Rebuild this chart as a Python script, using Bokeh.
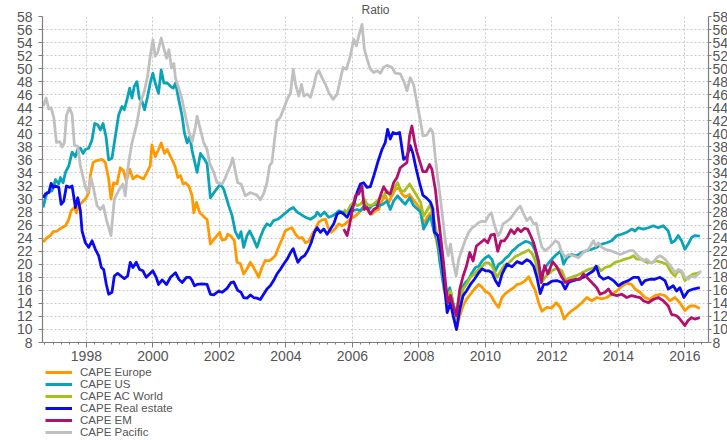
from bokeh.plotting import figure
from bokeh.layouts import column
from bokeh.models import (Range1d, LinearAxis, SingleIntervalTicker, Legend,
                          LegendItem)
from bokeh.embed import file_html
from bokeh.resources import INLINE

# ---------------- data (decimal year, CAPE ratio) ----------------
europe_year = [1996.70, 1996.82, 1996.92, 1997.00, 1997.12, 1997.22, 1997.37, 1997.47, 1997.54, 1997.64,
               1997.70, 1997.77, 1997.87, 1997.97, 1998.07, 1998.12, 1998.20, 1998.32, 1998.47, 1998.57,
               1998.67, 1998.74, 1998.82, 1998.92, 1999.02, 1999.12, 1999.20, 1999.30, 1999.40, 1999.52,
               1999.62, 1999.72, 1999.82, 1999.92, 1999.97, 2000.07, 2000.17, 2000.25, 2000.35, 2000.43,
               2000.53, 2000.63, 2000.68, 2000.75, 2000.83, 2000.91, 2000.98, 2001.08, 2001.18, 2001.23,
               2001.31, 2001.41, 2001.55, 2001.63, 2001.73, 2001.83, 2001.93, 2002.01, 2002.08, 2002.18,
               2002.25, 2002.35, 2002.45, 2002.53, 2002.63, 2002.73, 2002.83, 2002.93, 2003.03, 2003.11,
               2003.18, 2003.28, 2003.38, 2003.48, 2003.58, 2003.68, 2003.78, 2003.88, 2003.98, 2004.08,
               2004.18, 2004.29, 2004.39, 2004.49, 2004.59, 2004.69, 2004.79, 2004.89, 2004.99, 2005.09,
               2005.19, 2005.27, 2005.37, 2005.49, 2005.59, 2005.69, 2005.79, 2005.89, 2005.99, 2006.09,
               2006.19, 2006.29, 2006.39, 2006.49, 2006.59, 2006.69, 2006.79, 2006.89, 2006.99, 2007.09,
               2007.19, 2007.29, 2007.39, 2007.49, 2007.59, 2007.72, 2007.84, 2007.94, 2008.05, 2008.14,
               2008.24, 2008.35, 2008.45, 2008.55, 2008.65, 2008.75, 2008.85, 2008.95, 2009.03, 2009.13,
               2009.23, 2009.33, 2009.43, 2009.55, 2009.67, 2009.80, 2009.90, 2010.00, 2010.10, 2010.20,
               2010.30, 2010.40, 2010.50, 2010.60, 2010.70, 2010.85, 2010.95, 2011.05, 2011.20, 2011.30,
               2011.40, 2011.50, 2011.60, 2011.70, 2011.85, 2012.00, 2012.13, 2012.25, 2012.37, 2012.47,
               2012.60, 2012.75, 2012.90, 2013.05, 2013.20, 2013.35, 2013.50, 2013.65, 2013.80, 2013.95,
               2014.10, 2014.25, 2014.40, 2014.50, 2014.65, 2014.80, 2014.95, 2015.10, 2015.25, 2015.40,
               2015.55, 2015.70, 2015.85, 2016.00, 2016.15, 2016.30, 2016.45]
europe_cape = [23.4, 24.1, 24.4, 25.0, 25.1, 25.5, 25.9, 26.9, 28.2, 28.7,
               27.9, 29.0, 29.5, 30.0, 31.0, 33.6, 35.6, 35.9, 36.1, 35.6,
               33.1, 30.0, 32.5, 32.3, 34.8, 34.3, 32.8, 34.6, 33.1, 33.6,
               33.3, 33.1, 34.1, 35.1, 38.3, 36.5, 37.6, 38.6, 37.0, 37.6,
               36.5, 35.5, 34.8, 33.3, 33.6, 32.3, 32.5, 32.0, 30.5, 27.9,
               29.5, 27.9, 27.2, 26.9, 23.1, 23.8, 24.4, 24.9, 23.7, 23.8,
               24.6, 24.3, 23.6, 20.3, 20.1, 18.5, 19.3, 20.3, 19.5, 18.7,
               18.0, 19.5, 20.6, 20.5, 20.8, 21.3, 22.6, 23.8, 25.1, 25.4,
               25.6, 24.6, 24.0, 24.1, 23.3, 23.5, 24.6, 25.4, 26.5, 26.8,
               26.9, 25.6, 24.9, 25.5, 26.2, 25.9, 26.2, 26.7, 27.1, 27.4,
               27.9, 28.5, 29.0, 28.0, 27.7, 28.2, 28.4, 29.7, 30.5, 29.5,
               30.5, 31.5, 31.7, 30.8, 30.3, 30.7, 29.8, 29.2, 28.4, 26.1,
               27.2, 27.9, 25.4, 23.1, 20.8, 16.2, 14.1, 14.9, 12.9, 10.0,
               12.1, 13.6, 14.6, 15.4, 16.2, 16.9, 16.5, 15.8, 15.6, 14.9,
               14.0, 13.4, 14.9, 15.5, 15.9, 16.4, 16.9, 17.0, 17.5, 18.1,
               17.0, 16.0, 14.1, 12.8, 13.4, 13.3, 14.1, 13.4, 11.6, 12.3,
               12.9, 13.4, 14.1, 14.9, 14.4, 14.9, 14.7, 14.9, 15.4, 15.9,
               16.6, 17.1, 16.9, 16.2, 15.7, 14.9, 14.6, 15.2, 15.4, 15.2,
               14.4, 14.9, 14.1, 12.9, 13.6, 13.6, 13.2]

us_year = [1996.70, 1996.77, 1996.82, 1996.97, 1997.02, 1997.07, 1997.17, 1997.22, 1997.30, 1997.37,
           1997.47, 1997.57, 1997.67, 1997.74, 1997.82, 1997.90, 1997.97, 1998.07, 1998.17, 1998.25,
           1998.34, 1998.42, 1998.50, 1998.59, 1998.67, 1998.77, 1998.87, 1998.97, 1999.07, 1999.14,
           1999.22, 1999.30, 1999.37, 1999.44, 1999.52, 1999.59, 1999.67, 1999.75, 1999.84, 1999.92,
           2000.00, 2000.07, 2000.17, 2000.25, 2000.33, 2000.43, 2000.53, 2000.61, 2000.68, 2000.78,
           2000.88, 2000.95, 2001.03, 2001.11, 2001.18, 2001.33, 2001.43, 2001.55, 2001.63, 2001.73,
           2001.88, 2002.03, 2002.13, 2002.28, 2002.38, 2002.48, 2002.58, 2002.65, 2002.73, 2002.83,
           2002.91, 2003.01, 2003.13, 2003.23, 2003.33, 2003.43, 2003.53, 2003.63, 2003.75, 2003.88,
           2004.02, 2004.11, 2004.22, 2004.34, 2004.44, 2004.59, 2004.74, 2004.89, 2004.94, 2005.04,
           2005.16, 2005.29, 2005.39, 2005.49, 2005.59, 2005.69, 2005.84, 2005.99, 2006.14, 2006.24,
           2006.39, 2006.49, 2006.59, 2006.69, 2006.79, 2006.92, 2007.04, 2007.14, 2007.24, 2007.36,
           2007.49, 2007.59, 2007.72, 2007.84, 2008.05, 2008.14, 2008.24, 2008.35, 2008.45, 2008.55,
           2008.63, 2008.73, 2008.83, 2008.93, 2009.03, 2009.13, 2009.20, 2009.30, 2009.40, 2009.50,
           2009.60, 2009.70, 2009.80, 2009.90, 2010.00, 2010.10, 2010.20, 2010.30, 2010.40, 2010.50,
           2010.60, 2010.70, 2010.80, 2010.90, 2011.00, 2011.10, 2011.20, 2011.30, 2011.40, 2011.50,
           2011.60, 2011.68, 2011.80, 2011.90, 2012.04, 2012.16, 2012.26, 2012.35, 2012.45, 2012.60,
           2012.75, 2012.90, 2013.05, 2013.20, 2013.35, 2013.50, 2013.65, 2013.80, 2013.95, 2014.10,
           2014.25, 2014.40, 2014.50, 2014.60, 2014.75, 2014.90, 2015.05, 2015.20, 2015.35, 2015.50,
           2015.60, 2015.70, 2015.80, 2015.90, 2016.00, 2016.10, 2016.20, 2016.30, 2016.45]
us_cape = [28.7, 30.2, 31.0, 31.3, 32.0, 33.0, 32.3, 33.3, 32.5, 34.1,
           35.1, 37.2, 36.5, 37.6, 37.8, 37.0, 37.6, 37.8, 39.1, 41.6,
           41.4, 40.6, 41.6, 39.6, 36.0, 36.3, 39.6, 42.9, 44.2, 43.7,
           45.2, 47.0, 45.5, 47.3, 48.0, 45.5, 45.0, 43.7, 45.7, 47.8,
           49.3, 47.8, 46.2, 49.8, 47.8, 47.8, 47.3, 47.0, 47.8, 45.2,
           42.7, 40.1, 38.6, 39.6, 37.4, 34.1, 37.0, 36.1, 35.4, 30.2,
           31.3, 32.3, 31.5, 29.0, 27.5, 25.0, 24.0, 25.0, 22.6, 24.4,
           25.1, 24.1, 22.6, 24.1, 25.4, 26.2, 25.9, 26.7, 26.9, 27.4,
           28.0, 28.4, 28.7, 28.0, 27.7, 27.2, 26.9, 27.4, 28.0, 27.4,
           28.0, 27.2, 27.4, 27.7, 28.2, 28.0, 28.0, 28.2, 28.4, 28.2,
           29.0, 28.4, 29.0, 29.2, 29.0, 29.2, 29.7, 28.4, 29.7, 30.5,
           29.7, 29.2, 30.2, 29.0, 28.0, 25.4, 26.4, 27.4, 25.1, 23.8,
           20.3, 17.2, 15.2, 16.4, 14.1, 12.1, 14.6, 16.4, 17.2, 17.7,
           18.7, 19.5, 19.7, 20.5, 21.0, 21.3, 20.7, 19.0, 20.0, 20.3,
           20.9, 21.3, 22.0, 22.4, 22.9, 23.2, 23.5, 23.4, 23.1, 22.1,
           19.7, 18.4, 19.5, 20.2, 21.0, 21.6, 22.0, 20.0, 21.0, 21.5,
           21.3, 21.8, 22.1, 22.3, 22.6, 23.1, 23.3, 23.6, 24.4, 24.6,
           24.9, 25.4, 25.1, 25.6, 25.4, 25.6, 25.9, 25.6, 25.9, 25.1,
           23.3, 23.6, 24.4, 23.6, 22.3, 23.1, 24.1, 24.4, 24.3]

world_year = [2005.74, 2005.84, 2005.94, 2006.04, 2006.14, 2006.24, 2006.36, 2006.44, 2006.54, 2006.64,
              2006.74, 2006.84, 2006.94, 2007.04, 2007.14, 2007.24, 2007.36, 2007.46, 2007.56, 2007.72,
              2007.84, 2007.94, 2008.05, 2008.14, 2008.24, 2008.35, 2008.45, 2008.55, 2008.65, 2008.75,
              2008.85, 2008.95, 2009.03, 2009.13, 2009.23, 2009.33, 2009.43, 2009.55, 2009.67, 2009.80,
              2009.90, 2010.00, 2010.10, 2010.20, 2010.35, 2010.45, 2010.57, 2010.70, 2010.80, 2010.90,
              2011.00, 2011.10, 2011.20, 2011.30, 2011.40, 2011.50, 2011.60, 2011.70, 2011.85, 2012.00,
              2012.15, 2012.30, 2012.42, 2012.50, 2012.65, 2012.80, 2012.95, 2013.10, 2013.25, 2013.37,
              2013.48, 2013.60, 2013.75, 2013.90, 2014.05, 2014.20, 2014.35, 2014.45, 2014.55, 2014.70,
              2014.85, 2015.00, 2015.15, 2015.30, 2015.45, 2015.60, 2015.70, 2015.80, 2015.90, 2016.00,
              2016.10, 2016.25, 2016.45]
world_cape = [28.4, 28.0, 29.0, 29.5, 29.0, 29.2, 30.0, 29.2, 29.0, 29.2,
              29.7, 30.2, 30.5, 31.3, 30.5, 31.5, 32.5, 31.3, 31.2, 32.3,
              31.3, 30.5, 29.5, 27.4, 28.2, 29.2, 26.9, 24.4, 21.3, 17.7,
              15.2, 15.9, 13.9, 11.6, 14.1, 16.2, 16.9, 18.0, 18.5, 19.2,
              19.7, 20.2, 20.2, 19.7, 18.0, 18.9, 19.8, 20.2, 20.7, 21.2,
              21.4, 21.7, 21.9, 22.2, 21.7, 20.5, 18.3, 17.3, 18.4, 19.0,
              19.4, 19.0, 17.4, 17.8, 18.1, 18.4, 18.8, 19.2, 19.4, 19.7,
              19.0, 19.5, 19.7, 20.3, 20.5, 20.8, 21.0, 21.3, 20.8, 20.8,
              20.3, 20.3, 20.5, 20.3, 20.0, 18.7, 18.2, 19.0, 18.8, 17.5,
              18.0, 18.5, 18.7]

realestate_year = [1996.70, 1996.77, 1996.87, 1996.94, 1997.00, 1997.07, 1997.17, 1997.24, 1997.32, 1997.40,
                   1997.50, 1997.57, 1997.67, 1997.74, 1997.82, 1997.87, 1997.97, 1998.07, 1998.17, 1998.27,
                   1998.37, 1998.45, 1998.52, 1998.60, 1998.67, 1998.77, 1998.84, 1998.94, 1999.04, 1999.14,
                   1999.24, 1999.32, 1999.40, 1999.50, 1999.60, 1999.70, 1999.80, 1999.90, 2000.00, 2000.10,
                   2000.17, 2000.28, 2000.41, 2000.53, 2000.68, 2000.78, 2000.88, 2001.01, 2001.11, 2001.18,
                   2001.25, 2001.33, 2001.48, 2001.63, 2001.73, 2001.83, 2001.98, 2002.08, 2002.23, 2002.35,
                   2002.43, 2002.55, 2002.65, 2002.73, 2002.83, 2002.93, 2003.03, 2003.13, 2003.23, 2003.33,
                   2003.43, 2003.53, 2003.63, 2003.73, 2003.83, 2003.93, 2004.04, 2004.14, 2004.22, 2004.29,
                   2004.36, 2004.46, 2004.56, 2004.66, 2004.76, 2004.86, 2004.94, 2005.04, 2005.14, 2005.24,
                   2005.34, 2005.44, 2005.54, 2005.64, 2005.74, 2005.84, 2005.94, 2006.04, 2006.14, 2006.24,
                   2006.34, 2006.44, 2006.54, 2006.64, 2006.76, 2006.89, 2006.99, 2007.06, 2007.14, 2007.22,
                   2007.32, 2007.42, 2007.54, 2007.64, 2007.74, 2007.82, 2007.92, 2008.02, 2008.12, 2008.24,
                   2008.35, 2008.42, 2008.47, 2008.57, 2008.67, 2008.75, 2008.85, 2008.95, 2009.03, 2009.13,
                   2009.23, 2009.33, 2009.43, 2009.55, 2009.67, 2009.80, 2009.90, 2010.00, 2010.10, 2010.20,
                   2010.30, 2010.40, 2010.50, 2010.65, 2010.80, 2010.95, 2011.10, 2011.25, 2011.35, 2011.45,
                   2011.55, 2011.65, 2011.75, 2011.85, 2012.00, 2012.15, 2012.30, 2012.40, 2012.50, 2012.65,
                   2012.80, 2012.95, 2013.10, 2013.25, 2013.33, 2013.43, 2013.55, 2013.70, 2013.85, 2014.00,
                   2014.15, 2014.30, 2014.45, 2014.60, 2014.70, 2014.80, 2014.95, 2015.10, 2015.25, 2015.40,
                   2015.50, 2015.65, 2015.75, 2015.85, 2015.97, 2016.10, 2016.25, 2016.45]
realestate_cape = [30.2, 30.8, 31.0, 32.4, 31.8, 32.0, 31.8, 29.2, 29.7, 32.0,
                   31.8, 32.0, 28.7, 30.2, 28.2, 25.1, 23.3, 22.6, 23.6, 22.3,
                   21.3, 19.5, 19.2, 16.9, 15.4, 15.7, 18.2, 18.6, 18.2, 17.8,
                   18.2, 20.3, 19.5, 20.3, 19.2, 19.0, 18.0, 18.5, 19.0, 18.0,
                   16.9, 17.6, 16.9, 18.0, 18.7, 17.7, 17.2, 18.0, 18.0, 17.5,
                   16.7, 16.9, 17.0, 16.9, 15.4, 15.3, 15.9, 15.7, 16.3, 17.2,
                   17.3, 16.0, 15.7, 14.9, 14.8, 15.3, 14.9, 14.8, 14.6, 15.4,
                   16.2, 16.7, 17.5, 18.5, 19.2, 20.0, 20.8, 21.8, 22.4, 21.3,
                   20.3, 21.0, 21.3, 22.1, 23.3, 24.9, 25.6, 24.9, 25.4, 24.6,
                   25.4, 26.2, 27.7, 28.0, 27.7, 27.2, 28.2, 29.2, 31.0, 32.3,
                   32.5, 31.8, 31.9, 33.5, 35.6, 37.6, 38.7, 40.7, 39.2, 40.2,
                   40.0, 40.2, 36.1, 36.5, 38.2, 37.0, 34.6, 32.5, 30.6, 30.1,
                   29.5, 28.5, 24.9, 24.4, 21.3, 17.7, 12.6, 14.1, 12.1, 10.0,
                   13.1, 15.2, 15.9, 16.9, 17.7, 18.7, 19.3, 19.0, 19.0, 18.7,
                   17.5, 16.7, 18.5, 20.0, 19.6, 20.4, 20.1, 20.7, 20.4, 19.7,
                   18.0, 15.5, 16.9, 16.9, 17.4, 17.5, 17.2, 16.2, 17.2, 17.5,
                   17.7, 18.0, 18.5, 19.0, 19.7, 18.2, 17.7, 18.0, 17.5, 16.7,
                   17.2, 17.5, 18.0, 18.0, 16.9, 17.5, 17.7, 17.7, 18.0, 17.5,
                   16.2, 16.7, 15.9, 16.4, 14.9, 15.9, 16.2, 16.4]

em_year = [2005.74, 2005.84, 2005.91, 2005.99, 2006.09, 2006.19, 2006.29, 2006.36, 2006.44, 2006.54,
           2006.64, 2006.74, 2006.84, 2006.94, 2007.04, 2007.14, 2007.24, 2007.34, 2007.44, 2007.54,
           2007.64, 2007.72, 2007.79, 2007.87, 2007.94, 2008.02, 2008.12, 2008.22, 2008.32, 2008.39,
           2008.50, 2008.57, 2008.65, 2008.73, 2008.80, 2008.87, 2008.95, 2009.03, 2009.13, 2009.23,
           2009.33, 2009.43, 2009.53, 2009.63, 2009.73, 2009.85, 2009.97, 2010.07, 2010.17, 2010.27,
           2010.37, 2010.47, 2010.57, 2010.67, 2010.77, 2010.87, 2010.97, 2011.07, 2011.17, 2011.27,
           2011.37, 2011.45, 2011.52, 2011.60, 2011.68, 2011.78, 2011.88, 2012.02, 2012.15, 2012.30,
           2012.40, 2012.55, 2012.70, 2012.85, 2012.95, 2013.05, 2013.20, 2013.35, 2013.45, 2013.60,
           2013.70, 2013.80, 2013.95, 2014.10, 2014.25, 2014.40, 2014.55, 2014.65, 2014.75, 2014.90,
           2015.05, 2015.20, 2015.35, 2015.50, 2015.60, 2015.75, 2015.85, 2016.00, 2016.10, 2016.20,
           2016.30, 2016.45]
em_cape = [25.4, 24.4, 25.9, 28.0, 30.5, 30.8, 32.0, 28.4, 28.7, 27.7,
           28.4, 28.7, 30.5, 31.9, 31.0, 30.8, 32.5, 33.3, 34.8, 35.2,
           35.6, 39.7, 41.2, 38.8, 37.2, 35.9, 34.2, 34.2, 35.3, 34.6,
           31.3, 27.9, 24.4, 20.8, 17.2, 14.1, 15.2, 13.6, 12.1, 16.2,
           18.2, 19.7, 21.8, 20.5, 22.8, 23.3, 23.8, 23.3, 24.5, 24.6,
           22.0, 23.6, 23.6, 24.3, 25.3, 24.7, 25.5, 25.0, 25.5, 25.4,
           24.3, 23.3, 22.0, 20.5, 17.2, 19.8, 18.5, 20.4, 19.6, 18.0,
           17.2, 17.5, 17.7, 17.7, 18.5, 18.0, 17.2, 16.4, 15.4, 15.7,
           16.2, 15.4, 15.2, 15.4, 14.9, 15.2, 15.0, 14.9, 14.4, 14.1,
           14.6, 14.9, 14.4, 13.6, 12.3, 12.1, 11.6, 10.6, 11.4, 11.8,
           11.6, 11.8]

pacific_year = [1996.71, 1996.79, 1996.87, 1996.94, 1997.02, 1997.10, 1997.20, 1997.27, 1997.34, 1997.40,
                1997.49, 1997.57, 1997.64, 1997.74, 1997.82, 1997.97, 1998.04, 1998.14, 1998.22, 1998.32,
                1998.42, 1998.51, 1998.60, 1998.74, 1998.84, 1998.97, 1999.10, 1999.17, 1999.24, 1999.32,
                1999.37, 1999.52, 1999.62, 1999.74, 1999.84, 1999.92, 2000.00, 2000.07, 2000.14, 2000.25,
                2000.33, 2000.41, 2000.48, 2000.56, 2000.63, 2000.68, 2000.78, 2000.88, 2000.98, 2001.08,
                2001.18, 2001.28, 2001.33, 2001.43, 2001.53, 2001.63, 2001.71, 2001.83, 2001.93, 2002.08,
                2002.18, 2002.33, 2002.40, 2002.55, 2002.65, 2002.78, 2002.93, 2003.13, 2003.23, 2003.33,
                2003.43, 2003.51, 2003.58, 2003.65, 2003.73, 2003.83, 2003.93, 2004.04, 2004.14, 2004.22,
                2004.29, 2004.39, 2004.47, 2004.54, 2004.64, 2004.74, 2004.84, 2004.92, 2004.99, 2005.09,
                2005.19, 2005.29, 2005.42, 2005.54, 2005.64, 2005.72, 2005.82, 2005.94, 2006.04, 2006.12,
                2006.19, 2006.29, 2006.36, 2006.44, 2006.54, 2006.64, 2006.74, 2006.84, 2006.94, 2007.04,
                2007.19, 2007.29, 2007.44, 2007.56, 2007.64, 2007.74, 2007.84, 2007.94, 2008.05, 2008.12,
                2008.23, 2008.35, 2008.42, 2008.50, 2008.57, 2008.65, 2008.73, 2008.80, 2008.88, 2008.95,
                2009.03, 2009.12, 2009.20, 2009.30, 2009.40, 2009.50, 2009.60, 2009.70, 2009.80, 2009.90,
                2010.00, 2010.10, 2010.18, 2010.25, 2010.38, 2010.45, 2010.53, 2010.65, 2010.75, 2010.85,
                2010.95, 2011.05, 2011.15, 2011.25, 2011.35, 2011.45, 2011.53, 2011.60, 2011.70, 2011.80,
                2011.95, 2012.10, 2012.20, 2012.30, 2012.40, 2012.50, 2012.65, 2012.80, 2012.95, 2013.10,
                2013.25, 2013.32, 2013.40, 2013.50, 2013.60, 2013.75, 2013.90, 2014.05, 2014.20, 2014.35,
                2014.45, 2014.55, 2014.65, 2014.75, 2014.85, 2014.95, 2015.05, 2015.15, 2015.25, 2015.35,
                2015.45, 2015.60, 2015.70, 2015.80, 2015.90, 2016.00, 2016.10, 2016.20, 2016.30, 2016.40,
                2016.48]
pacific_cape = [44.3, 45.5, 43.8, 44.0, 42.5, 38.7, 38.8, 38.0, 38.7, 42.8,
                44.0, 43.0, 38.2, 38.1, 35.1, 31.8, 31.0, 33.2, 31.5, 29.0,
                28.4, 29.0, 26.9, 24.4, 30.0, 31.3, 32.3, 30.5, 34.5, 37.1,
                38.6, 41.6, 44.7, 46.5, 48.8, 51.9, 54.4, 51.9, 52.4, 54.7,
                53.1, 51.6, 52.9, 50.1, 50.8, 48.5, 47.0, 45.2, 42.7, 40.4,
                38.8, 41.1, 42.7, 40.6, 38.6, 37.6, 35.5, 34.1, 32.5, 32.3,
                33.3, 35.1, 36.3, 32.5, 32.3, 30.5, 31.0, 30.6, 29.9, 30.8,
                32.5, 35.1, 35.6, 38.7, 42.0, 42.5, 43.8, 45.3, 46.3, 49.9,
                47.6, 45.8, 47.6, 45.8, 46.1, 45.6, 47.4, 49.2, 49.7, 48.6,
                47.6, 46.3, 45.3, 46.1, 48.4, 50.2, 49.9, 52.0, 54.5, 53.5,
                55.0, 56.8, 53.0, 51.5, 49.9, 49.4, 49.7, 49.3, 50.2, 50.5,
                50.2, 49.3, 49.2, 47.9, 46.6, 48.6, 47.6, 44.8, 41.9, 39.7,
                39.8, 40.8, 40.2, 36.1, 33.1, 30.0, 26.4, 23.3, 21.3, 23.1,
                20.3, 18.2, 20.8, 22.3, 23.8, 24.9, 25.6, 25.9, 26.4, 26.6,
                26.5, 27.5, 27.9, 26.4, 24.4, 24.9, 26.2, 26.6, 27.0, 27.7,
                28.4, 28.9, 27.7, 26.7, 27.2, 26.2, 26.3, 24.6, 22.6, 22.1,
                22.7, 23.6, 23.3, 21.8, 21.1, 21.5, 21.3, 21.0, 21.8, 22.3,
                23.6, 22.8, 23.3, 22.6, 22.3, 22.1, 21.8, 21.5, 21.8, 22.1,
                22.1, 21.5, 21.0, 20.5, 20.8, 20.3, 20.3, 21.0, 21.3, 21.0,
                20.5, 19.5, 18.7, 19.2, 19.0, 18.0, 17.7, 18.2, 18.0, 18.5,
                19.0]

series_names = ["CAPE Europe", "CAPE US", "CAPE AC World", "CAPE Real estate", "CAPE EM", "CAPE Pacific"]
series_colors = ["#FF9900", "#0AA3B8", "#A8BF1C", "#0A0AF0", "#B2106E", "#C0C0C0"]
title_text = "Ratio"

# ---------------- main chart ----------------
FONT = "Liberation Sans"
TXT = "#555555"
AXC = "#7f7f7f"
W = 727

x_start, x_end = 1996.68, 2016.71
p = figure(frame_width=666, frame_height=326, output_backend="svg", toolbar_location=None,
           x_range=Range1d(x_start, x_end), y_range=Range1d(8, 58),
           min_border_left=42, min_border_right=19, min_border_top=14, min_border_bottom=0,
           title=title_text)
p.title.align = "center"
p.title.text_font = FONT
p.title.text_font_size = "12px"
p.title.text_font_style = "normal"
p.title.text_color = TXT
p.title.standoff = 0
p.title.offset = 0
p.outline_line_color = None
p.background_fill_color = "white"
p.border_fill_color = "white"

xt = SingleIntervalTicker(interval=2, num_minor_ticks=8)
yt = SingleIntervalTicker(interval=2, num_minor_ticks=0)

xa = p.xaxis[0]
xa.ticker = xt
ya = p.yaxis[0]
ya.ticker = yt
ra = LinearAxis(ticker=yt)
p.add_layout(ra, "right")

for ax in (xa, ya, ra):
    ax.axis_line_color = AXC
    ax.axis_line_width = 1.2
    ax.major_tick_line_color = AXC
    ax.minor_tick_line_color = AXC
    ax.major_tick_in = 0
    ax.minor_tick_in = 0
    ax.major_label_text_font = FONT
    ax.major_label_text_font_size = "14px"
    ax.major_label_text_color = TXT
xa.major_tick_out = 5
xa.minor_tick_out = 2
xa.major_label_standoff = 3
ya.major_tick_out = 4
ya.minor_tick_out = 0
ya.major_label_standoff = 6
ra.major_tick_out = 3
ra.minor_tick_out = 0
ra.major_label_standoff = 1

p.xgrid.grid_line_color = "#c8c8c8"
p.xgrid.grid_line_dash = "2 2"
p.xgrid.ticker = xt
p.ygrid.grid_line_color = "#c8c8c8"
p.ygrid.grid_line_dash = "2 2"
p.ygrid.ticker = yt

xs = [europe_year, us_year, world_year, realestate_year, em_year, pacific_year]
ys = [europe_cape, us_cape, world_cape, realestate_cape, em_cape, pacific_cape]
for x, y, c in zip(xs, ys, series_colors):
    p.line(x, y, line_color=c, line_width=2.8, line_join="round")

# ---------------- legend strip below the chart ----------------
q = figure(width=W, height=75, output_backend="svg", toolbar_location=None,
           x_range=Range1d(0, 1), y_range=Range1d(0, 1),
           x_axis_location=None, y_axis_location=None,
           min_border_left=0, min_border_right=0, min_border_top=0, min_border_bottom=0)
q.grid.visible = False
q.outline_line_color = None
q.background_fill_color = "white"
q.border_fill_color = "white"

# legend-only swatch renderers (a single NaN point each: nothing is drawn in the plot area)
nan = float("nan")
swatches = [q.line([nan], [nan], line_color=c, line_width=3) for c in series_colors]
legend = Legend(items=[LegendItem(label=n, renderers=[r]) for n, r in zip(series_names, swatches)],
                location="top_left", orientation="vertical",
                label_text_font=FONT, label_text_font_size="11.5px", label_text_color=TXT,
                glyph_width=27, glyph_height=12, label_height=12, label_standoff=8,
                spacing=0, padding=0, margin=3,
                border_line_color=None, background_fill_alpha=0)
q.add_layout(legend)

layout = column(p, q, spacing=0)
open("out.html", "w").write(file_html(layout, INLINE))
